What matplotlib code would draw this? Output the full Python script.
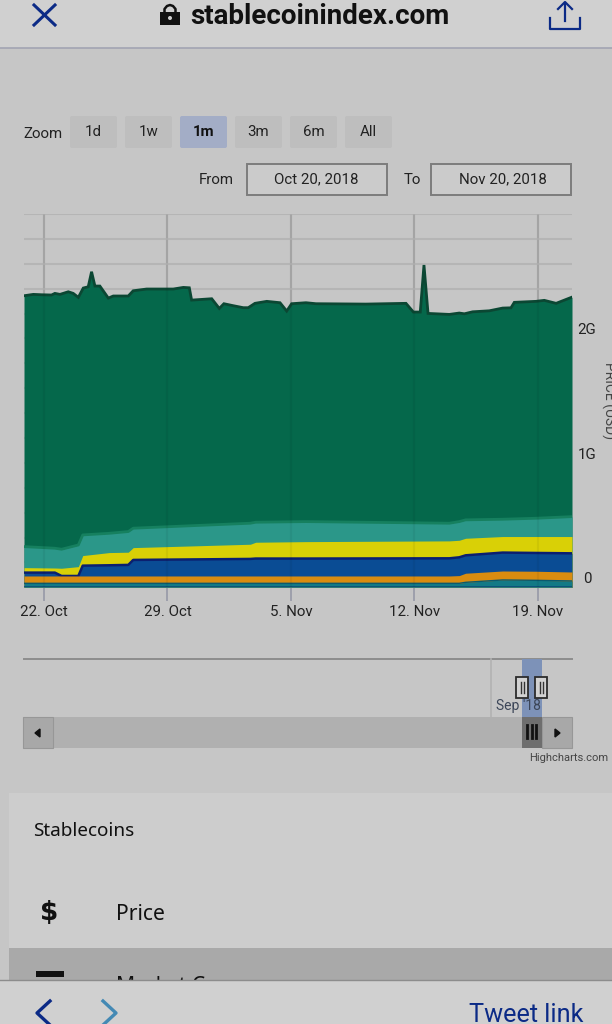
import matplotlib
matplotlib.use("Agg")
import matplotlib.pyplot as plt
from matplotlib.patches import Rectangle, FancyBboxPatch, Circle

# days counted from 22 Oct 2018, values in billions of USD
total_days = [-1.13, -0.6, -0.13, 0.43, 0.62, 0.91, 1.38, 1.66, 1.95, 2.23, 2.51, 2.70, 2.89, 3.17,
              3.65, 3.93, 4.78, 5.06, 5.82, 7.33, 7.90, 8.24, 8.37, 9.51, 9.94, 10.2, 10.73, 11.30,
              11.58, 11.96, 12.63, 13.38, 13.76, 14.04, 14.85, 15.42, 18.25, 20.52, 20.94, 21.33,
              21.54, 21.77, 22.98, 23.54, 23.83, 24.30, 25.24, 26.0, 26.47, 26.66, 27.89, 28.36,
              29.03, 29.93]
total_top = [2.343, 2.354, 2.351, 2.349, 2.362, 2.354, 2.375, 2.362, 2.330, 2.405, 2.415, 2.536, 2.421, 2.421,
             2.324, 2.341, 2.341, 2.383, 2.397, 2.397, 2.410, 2.407, 2.308, 2.319, 2.241, 2.279, 2.263, 2.247,
             2.247, 2.282, 2.298, 2.287, 2.220, 2.279, 2.287, 2.279, 2.276, 2.282, 2.212, 2.212,
             2.590, 2.201, 2.193, 2.204, 2.198, 2.214, 2.222, 2.244, 2.246, 2.290, 2.298, 2.306,
             2.282, 2.332]

layer_days = [-1.13, 0.62, 1.0, 1.95, 2.2, 3.7, 4.78, 5.06, 11.7, 12.0, 14.85, 22.98, 23.54, 23.9, 26.0, 27.9, 29.93]
teal_top = [.327, .314, .306, .340, .421, .434, .448, .475, .515, .523, .528, .515, .528, .542, .547, .555, .568]
yellow_top = [.158, .155, .153, .166, .255, .279, .282, .319, .346, .362, .367, .373, .378, .394, .408, .408, .408]
blue_top = [.118, .118, .091, .091, .174, .177, .180, .220, .228, .231, .231, .233, .241, .257, .279, .276, .273]
orange_top = [.091, .091, .091, .091, .091, .091, .091, .091, .091, .091, .091, .091, .094, .113, .131, .129, .123]
base_top = [.032, .032, .032, .032, .032, .032, .032, .032, .032, .032, .032, .032, .032, .040, .059, .056, .051]

tick_days = [0, 7, 14, 21, 28]
tick_labels = ["22. Oct", "29. Oct", "5. Nov", "12. Nov", "19. Nov"]
grid_values = [0.2 * i for i in range(16)]
y_labels = {0: "0", 1: "1G", 2: "2G"}
zoom_labels = ["1d", "1w", "1m", "3m", "6m", "All"]

W, H = 612, 1024
NARROW = ["Roboto", "DejaVu Sans"]
PAGE = "#c6c6c6"
BAR = "#d0d0d0"
INK = "#222222"
LINK = "#0b2a86"

fig = plt.figure(figsize=(W / 100, H / 100), dpi=100, facecolor=PAGE)

# page chrome, in screen pixels
ui = fig.add_axes((0, 0, 1, 1))
ui.set_xlim(0, W)
ui.set_ylim(H, 0)
ui.axis("off")


def box(x0, y0, x1, y1, color, edge="none", lw=0, z=1):
    ui.add_patch(Rectangle((x0, y0), x1 - x0, y1 - y0, fc=color, ec=edge, lw=lw, zorder=z))


def label(x, y, s, size=10.8, color=INK, ha="center", family=None, weight="normal", z=5, **kw):
    return ui.text(x, y + 1.5, s, fontsize=size, color=color, ha=ha, va="center",
                   family=family or NARROW, weight=weight, zorder=z, **kw)


# top bar
box(0, 0, W, 48, BAR)
ui.plot([0, W], [48, 48], color="#a2a4b2", lw=1.2, zorder=2)
ui.plot([34, 55], [5, 25], color=LINK, lw=2.2, zorder=3)
ui.plot([34, 55], [25, 5], color=LINK, lw=2.2, zorder=3)
box(160, 12, 180, 25, "#111111", z=3)
ui.plot([164.5, 164.5, 167, 170, 173, 175.5, 175.5], [13, 9, 6, 5, 6, 9, 13], color="#111111", lw=1.8, zorder=3)
ui.add_patch(Circle((170, 18), 2, fc="#d0d0d0", ec="none", zorder=4))
label(319.5, 15, "stablecoinindex.com", size=20, color="#111111", family="Roboto", weight="bold")
ui.plot([550, 550, 580, 580], [18, 29, 29, 18], color=LINK, lw=1.6, zorder=3)
ui.plot([565, 565], [3, 21], color=LINK, lw=1.6, zorder=3)
ui.plot([558, 565, 572], [9, 2, 9], color=LINK, lw=1.6, zorder=3)

# range selector
label(43, 132, "Zoom")
for i, name in enumerate(zoom_labels):
    x0 = 70 + 55 * i
    active = name == "1m"
    ui.add_patch(FancyBboxPatch((x0 + 2, 118), 43, 28, boxstyle="round,pad=2",
                                fc="#a3adc6" if active else "#bebebe", ec="none", zorder=1))
    label(x0 + 23.5, 130, name, color="#111111" if active else INK,
          weight="bold" if active else "normal")
label(216, 178, "From")
box(247, 164, 387, 195, "#cbcbcb", edge="#7c7c7c", lw=1.4)
label(316, 178, "Oct 20, 2018")
label(412, 178, "To")
box(431, 164, 571, 195, "#cbcbcb", edge="#7c7c7c", lw=1.4)
label(503, 178, "Nov 20, 2018")

label(609, 399, "PRICE (USD)", size=10, color="#444444", rotation=270, clip_on=False)

# navigator
ui.plot([24, 572], [659, 659], color="#8d8d8d", lw=1.4, zorder=2)
ui.plot([491, 491], [659, 717], color="#b2b2b2", lw=1.2, zorder=2)
box(522, 659, 542, 717, "#7d92b8", z=2)
label(518.5, 704.5, "Sep '18", size=10, color="#3c4658", z=3)
for x0 in (516, 535):
    box(x0, 677, x0 + 12, 698, "#d2d2d2", edge="#2c2c2c", lw=1.3, z=4)
    ui.plot([x0 + 5, x0 + 5], [682, 693], color="#333333", lw=1, zorder=5)
    ui.plot([x0 + 7.5, x0 + 7.5], [682, 693], color="#333333", lw=1, zorder=5)
box(23, 717, 572, 748, "#b0b0b0", z=2)
box(23, 717, 53, 748, "#a8a8a8", edge="#979797", lw=0.8, z=3)
box(542, 717, 572, 748, "#a8a8a8", edge="#979797", lw=0.8, z=3)
box(522, 717, 542, 748, "#6e6e6e", z=3)
for x in (527, 531.5, 536):
    ui.plot([x, x], [725, 738], color="#111111", lw=2, zorder=4)
ui.fill([40, 35, 40], [729, 733, 737], color="#111111", zorder=4)
ui.fill([555, 560, 555], [729, 733, 737], color="#111111", zorder=4)
label(608, 756.5, "Highcharts.com", size=8, color="#444444", ha="right")

# list card
box(9, 793, W, 948, "#cdcdcd")
box(9, 948, W, 980, "#a9a9a9")
label(33, 829, "Stablecoins", size=13.6, color="#111111", ha="left", family="Noto Sans")
label(49, 912, "$", size=19, color="#111111", family="DejaVu Sans", weight="bold")
label(116, 913.5, "Price", size=15.2, color="#111111", ha="left", family="Noto Sans")
box(36, 971, 64, 977, "#111111")
label(116, 985, "Market Cap", size=15.2, color="#111111", ha="left", family="Noto Sans")

# bottom bar
box(0, 980, W, H, BAR, z=6)
ui.plot([0, W], [980, 980], color="#8c8c8c", lw=1, zorder=7)
ui.plot([50, 37, 50], [1001, 1013, 1025], color=LINK, lw=2.4, zorder=7)
ui.plot([103, 116, 103], [1001, 1013, 1025], color="#4489b4", lw=2.4, zorder=7)
label(526, 1013.5, "Tweet link", size=18.2, color=LINK, family="Roboto", z=7)

# the chart itself
ax = fig.add_axes((24 / W, 1 - 587.3 / H, 548 / W, 373.3 / H), facecolor="none")
ax.set_xlim(-1.13, 29.93)
ax.set_ylim(0, 3.0)
ax.set_axisbelow(True)
for spine in ax.spines.values():
    spine.set_visible(False)

ax.set_yticks(grid_values)
ax.set_yticklabels([])
ax.tick_params(axis="y", length=0)
ax.grid(axis="y", color="#b5b5b5", lw=1.5)
ax.vlines(tick_days, 0, 3.0, color="#adadad", lw=1.5, zorder=0.5)

ax.fill_between(total_days, total_top, color="#05684b", lw=0, zorder=1)
ax.plot(total_days, total_top, color="#0b4733", lw=2, zorder=1.1, solid_joinstyle="miter")
ax.fill_between(layer_days, teal_top, color="#2b9789", lw=0, zorder=2)
ax.plot(layer_days, teal_top, color="#16805f", lw=2, zorder=2.1)
ax.fill_between(layer_days, yellow_top, color="#d9d006", lw=0, zorder=3)
ax.fill_between(layer_days, blue_top, color="#0a4c94", lw=0, zorder=4)
ax.plot(layer_days, blue_top, color="#0b1f70", lw=1.8, zorder=4.1)
ax.fill_between(layer_days, orange_top, color="#d98c10", lw=0, zorder=5)
ax.fill_between(layer_days, base_top, color="#137a86", lw=0, zorder=6)
ax.plot(layer_days, base_top, color="#0c5a6e", lw=1, zorder=6.1)
ax.plot(layer_days, [0.006] * len(layer_days), color="#0d4f7a", lw=2, zorder=6.2)
ax.vlines(tick_days, 0, 3.0, color="#000000", alpha=0.05, lw=1.5, zorder=7)

ax.set_xticks(tick_days)
ax.set_xticklabels(tick_labels, fontsize=10.8, color=INK, family=NARROW)
ax.tick_params(axis="x", length=10, width=1.3, color="#9a9caa", pad=3)

for value, text in y_labels.items():
    ax.annotate(text, (1, value), xycoords=ax.get_yaxis_transform(), xytext=(10.8, 5.8),
                textcoords="offset points", fontsize=10.8, color=INK, family=NARROW,
                ha="center", va="center", annotation_clip=False)

fig.savefig("out.png", dpi=100, facecolor=fig.get_facecolor())
